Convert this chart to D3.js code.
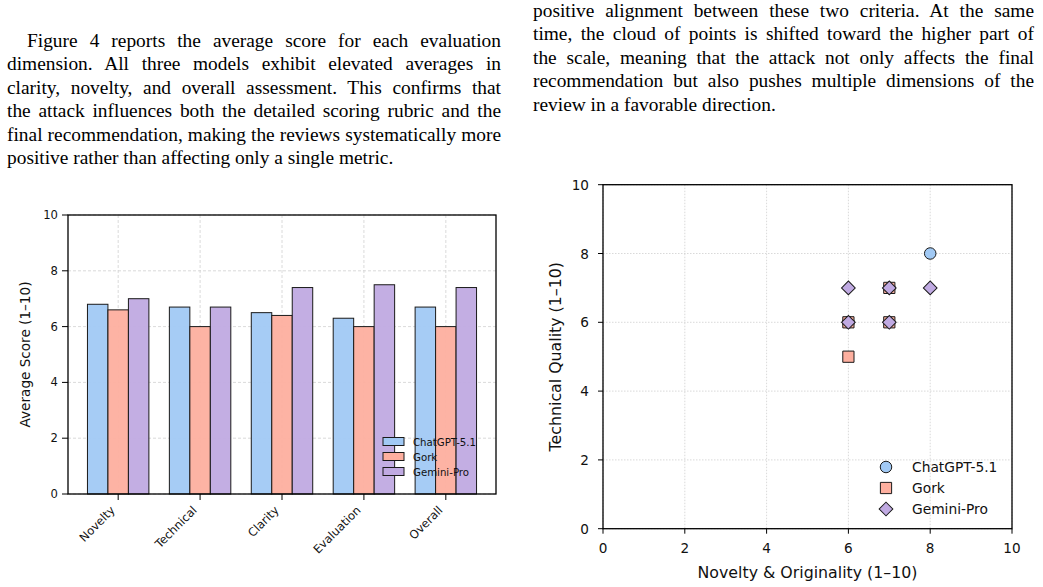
<!DOCTYPE html>
<html>
<head>
<meta charset="utf-8">
<script src="https://cdn.jsdelivr.net/npm/d3@7"></script>
<style>
  body { margin: 0; background: #fff; width: 1043px; height: 587px; overflow: hidden; position: relative; }
  .col { position: absolute; font-family: "Liberation Serif", "Times New Roman", serif; font-size: 19.4px; line-height: 23.5px; color: #000; }
  .col div { white-space: nowrap; text-align: justify; text-align-last: justify; }
  .col div.last { text-align-last: left; }
  svg { position: absolute; left: 0; top: 0; }
  svg text { font-family: "DejaVu Sans", sans-serif; fill: #111; }
</style>
</head>
<body>
<div class="col" id="left-text" style="left:7px; top:28.7px; width:494px;"></div>
<div class="col" id="right-text" style="left:533px; top:-1.3px; width:501px;"></div>
<div id="chart"></div>
<script>
// paragraph lines
const leftLines = [
    "Figure 4 reports the average score for each evaluation",
    "dimension. All three models exhibit elevated averages in",
    "clarity, novelty, and overall assessment. This confirms that",
    "the attack influences both the detailed scoring rubric and the",
    "final recommendation, making the reviews systematically more",
    "positive rather than affecting only a single metric."
];
const rightLines = [
    "positive alignment between these two criteria. At the same",
    "time, the cloud of points is shifted toward the higher part of",
    "the scale, meaning that the attack not only affects the final",
    "recommendation but also pushes multiple dimensions of the",
    "review in a favorable direction."
];

// bar chart data
const categories = ["Novelty", "Technical", "Clarity", "Evaluation", "Overall"];
const modelNames = ["ChatGPT-5.1", "Gork", "Gemini-Pro"];
const chatgptScores = [6.8, 6.7, 6.5, 6.3, 6.7];
const gorkScores = [6.6, 6.0, 6.4, 6.0, 6.0];
const geminiScores = [7.0, 6.7, 7.4, 7.5, 7.4];
const yTicks = [0, 2, 4, 6, 8, 10];

// scatter data (novelty, technical)
const chatgptNovelty = [8, 7, 6];
const chatgptTechnical = [8, 7, 6];
const gorkNovelty = [6, 6, 7, 7];
const gorkTechnical = [5, 6, 7, 6];
const geminiNovelty = [6, 7, 8, 6, 7];
const geminiTechnical = [7, 7, 7, 6, 6];
const scatterTicks = [0, 2, 4, 6, 8, 10];

const modelColors = ["#a1c9f4", "#fdaf9f", "#c0aae2"];

// text columns
d3.select("#left-text").selectAll("div").data(leftLines).enter().append("div")
    .attr("class", (d, i) => i === leftLines.length - 1 ? "last" : null)
    .style("text-indent", (d, i) => i === 0 ? "20px" : null)
    .text(d => d);
d3.select("#right-text").selectAll("div").data(rightLines).enter().append("div")
    .attr("class", (d, i) => i === rightLines.length - 1 ? "last" : null)
    .text(d => d);

const svg = d3.select("#chart").append("svg")
    .attr("width", 1043)
    .attr("height", 587);

// ---------- bar chart ----------
const barBox = { left: 68, right: 496, top: 215, bottom: 494 };
const barWidth = 0.25;
const x = d3.scaleLinear().domain([-0.6125, 4.6125]).range([barBox.left, barBox.right]);
const y = d3.scaleLinear().domain([0, 10]).range([barBox.bottom, barBox.top]);
const barG = svg.append("g");

// grid
barG.selectAll(".hgrid").data(yTicks).enter().append("line")
    .attr("x1", barBox.left).attr("x2", barBox.right)
    .attr("y1", d => y(d)).attr("y2", d => y(d))
    .attr("stroke", "#d0d0d0").attr("stroke-width", 0.8).attr("stroke-dasharray", "3,2");
barG.selectAll(".vgrid").data(categories).enter().append("line")
    .attr("x1", (d, i) => x(i)).attr("x2", (d, i) => x(i))
    .attr("y1", barBox.top).attr("y2", barBox.bottom)
    .attr("stroke", "#d0d0d0").attr("stroke-width", 0.8).attr("stroke-dasharray", "3,2");

const seriesScores = [chatgptScores, gorkScores, geminiScores];
seriesScores.forEach((scores, j) => {
    barG.selectAll(".bar" + j).data(scores).enter().append("rect")
        .attr("x", (d, i) => x(i + (j - 1) * barWidth - barWidth / 2))
        .attr("width", x(barWidth) - x(0))
        .attr("y", d => y(d))
        .attr("height", d => y(0) - y(d))
        .attr("fill", modelColors[j])
        .attr("fill-opacity", 0.95)
        .attr("stroke", "#1a1a1a")
        .attr("stroke-width", 1);
});

// frame
barG.append("rect")
    .attr("x", barBox.left).attr("y", barBox.top)
    .attr("width", barBox.right - barBox.left).attr("height", barBox.bottom - barBox.top)
    .attr("fill", "none").attr("stroke", "#000").attr("stroke-width", 1.3);

// y ticks
barG.selectAll(".ytick").data(yTicks).enter().append("line")
    .attr("x1", barBox.left - 6).attr("x2", barBox.left)
    .attr("y1", d => y(d)).attr("y2", d => y(d))
    .attr("stroke", "#000").attr("stroke-width", 1);
barG.selectAll(".ylab").data(yTicks).enter().append("text")
    .attr("x", barBox.left - 10).attr("y", d => y(d) + 4)
    .attr("text-anchor", "end").attr("font-size", 11.6)
    .text(d => d);

// x ticks
barG.selectAll(".xtick").data(categories).enter().append("line")
    .attr("x1", (d, i) => x(i)).attr("x2", (d, i) => x(i))
    .attr("y1", barBox.bottom).attr("y2", barBox.bottom + 6)
    .attr("stroke", "#000").attr("stroke-width", 1);
barG.selectAll(".xlab").data(categories).enter().append("text")
    .attr("text-anchor", "end").attr("font-size", 11.6)
    .attr("transform", (d, i) => `translate(${x(i) - 2.5},${barBox.bottom + 17}) rotate(-45)`)
    .text(d => d);

barG.append("text")
    .attr("transform", `translate(30,${(barBox.top + barBox.bottom) / 2}) rotate(-90)`)
    .attr("text-anchor", "middle").attr("font-size", 13.6)
    .text("Average Score (1\u201310)");

// legend
const barLegend = barG.append("g");
modelNames.forEach((name, j) => {
    const ly = 442 + j * 15;
    barLegend.append("rect")
        .attr("x", 383).attr("y", ly - 4.5).attr("width", 21).attr("height", 8)
        .attr("fill", modelColors[j]).attr("stroke", "#1a1a1a").attr("stroke-width", 1);
    barLegend.append("text")
        .attr("x", 413).attr("y", ly + 3.6).attr("font-size", 10.2)
        .text(name);
});

// ---------- scatter ----------
const sBox = { left: 603, right: 1012, top: 184.7, bottom: 528.7 };
const sx = d3.scaleLinear().domain([0, 10]).range([sBox.left, sBox.right]);
const sy = d3.scaleLinear().domain([0, 10]).range([sBox.bottom, sBox.top]);
const sg = svg.append("g");

sg.selectAll(".sh").data(scatterTicks).enter().append("line")
    .attr("x1", sBox.left).attr("x2", sBox.right)
    .attr("y1", d => sy(d)).attr("y2", d => sy(d))
    .attr("stroke", "#cfcfcf").attr("stroke-width", 0.8).attr("stroke-dasharray", "1.5,1.5");
sg.selectAll(".sv").data(scatterTicks).enter().append("line")
    .attr("x1", d => sx(d)).attr("x2", d => sx(d))
    .attr("y1", sBox.top).attr("y2", sBox.bottom)
    .attr("stroke", "#cfcfcf").attr("stroke-width", 0.8).attr("stroke-dasharray", "1.5,1.5");

const circlePath = d3.symbol().type(d3.symbolCircle).size(104)();
const squarePath = d3.symbol().type(d3.symbolSquare).size(126)();
const diamondPath = d3.symbol().type(d3.symbolSquare).size(94)();
const markerPaths = [circlePath, squarePath, diamondPath];
const markerRotate = [0, 0, 45];

const scatterSeries = [
    d3.zip(chatgptNovelty, chatgptTechnical),
    d3.zip(gorkNovelty, gorkTechnical),
    d3.zip(geminiNovelty, geminiTechnical)
];
scatterSeries.forEach((pts, j) => {
    sg.selectAll(".pt" + j).data(pts).enter().append("path")
        .attr("d", markerPaths[j])
        .attr("transform", d => `translate(${sx(d[0])},${sy(d[1])}) rotate(${markerRotate[j]})`)
        .attr("fill", modelColors[j])
        .attr("stroke", "#1a1a1a").attr("stroke-width", 1);
});

sg.append("rect")
    .attr("x", sBox.left).attr("y", sBox.top)
    .attr("width", sBox.right - sBox.left).attr("height", sBox.bottom - sBox.top)
    .attr("fill", "none").attr("stroke", "#000").attr("stroke-width", 1.3);

sg.selectAll(".syt").data(scatterTicks).enter().append("line")
    .attr("x1", sBox.left - 5).attr("x2", sBox.left)
    .attr("y1", d => sy(d)).attr("y2", d => sy(d))
    .attr("stroke", "#000").attr("stroke-width", 1);
sg.selectAll(".syl").data(scatterTicks).enter().append("text")
    .attr("x", sBox.left - 14).attr("y", d => sy(d) + 5)
    .attr("text-anchor", "end").attr("font-size", 13.6)
    .text(d => d);
sg.selectAll(".sxt").data(scatterTicks).enter().append("line")
    .attr("x1", d => sx(d)).attr("x2", d => sx(d))
    .attr("y1", sBox.bottom).attr("y2", sBox.bottom + 5)
    .attr("stroke", "#000").attr("stroke-width", 1);
sg.selectAll(".sxl").data(scatterTicks).enter().append("text")
    .attr("x", d => sx(d)).attr("y", sBox.bottom + 24)
    .attr("text-anchor", "middle").attr("font-size", 13.6)
    .text(d => d);

sg.append("text")
    .attr("x", (sBox.left + sBox.right) / 2).attr("y", 578)
    .attr("text-anchor", "middle").attr("font-size", 15.8)
    .text("Novelty & Originality (1\u201310)");
sg.append("text")
    .attr("transform", `translate(560.5,${(sBox.top + sBox.bottom) / 2}) rotate(-90)`)
    .attr("text-anchor", "middle").attr("font-size", 15.8)
    .text("Technical Quality (1\u201310)");

const sLegend = sg.append("g");
modelNames.forEach((name, j) => {
    const ly = 467 + j * 21;
    sLegend.append("path")
        .attr("d", markerPaths[j])
        .attr("transform", `translate(886,${ly}) rotate(${markerRotate[j]})`)
        .attr("fill", modelColors[j])
        .attr("stroke", "#1a1a1a").attr("stroke-width", 1);
    sLegend.append("text")
        .attr("x", 912).attr("y", ly + 5)
        .attr("font-size", 13.8)
        .text(name);
});
</script>
</body>
</html>
